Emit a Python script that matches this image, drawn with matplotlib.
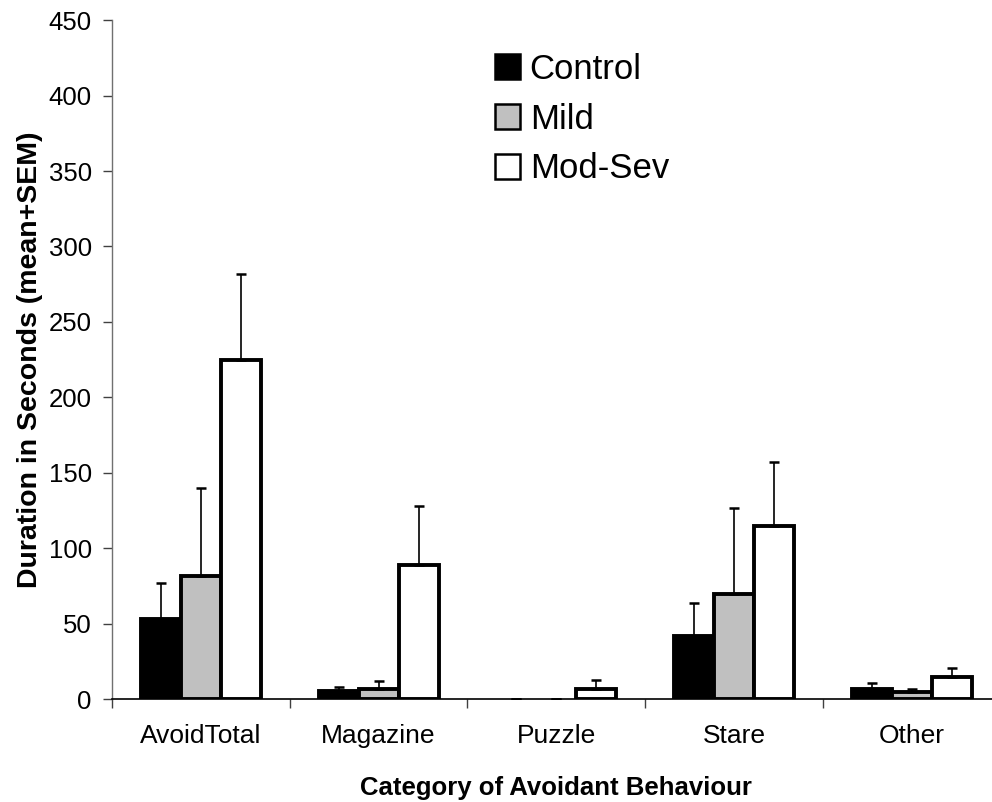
import matplotlib
matplotlib.use("Agg")
import matplotlib.pyplot as plt
import numpy as np

plt.rcParams['font.family'] = ['Liberation Sans', 'DejaVu Sans']

categories = ["AvoidTotal", "Magazine", "Puzzle", "Stare", "Other"]
groups = ["Control", "Mild", "Mod-Sev"]

# mean duration (s) per group, one value per category
control_mean = [53, 5.5, 0, 42, 6.6]
mild_mean = [82, 7, 0, 70, 5]
modsev_mean = [225, 89, 7, 115, 15]

# upper SEM bar height above each mean
control_sem = [24, 3, 0, 22, 4.5]
mild_sem = [58, 5, 0, 57, 1.6]
modsev_sem = [57, 39, 6, 42, 6]

y_ticks = [0, 50, 100, 150, 200, 250, 300, 350, 400, 450]

fills = ["black", "#c0c0c0", "white"]

fig = plt.figure(figsize=(9.92, 8.02), dpi=100)
ax = fig.add_axes([0.1129, 0.128, 0.8957, 0.847])

centers = np.arange(len(categories)) + 0.5
width = 0.225
offsets = [-width, 0, width]

for means, sems, fc, off, name in zip(
        [control_mean, mild_mean, modsev_mean],
        [control_sem, mild_sem, modsev_sem],
        fills, offsets, groups):
    means = np.array(means, dtype=float)
    sems = np.array(sems, dtype=float)
    lws = [2.8 if m > 0 else 0 for m in means]
    ax.bar(centers + off, means, width=width, color=fc, edgecolor="black",
           linewidth=lws, label=name, zorder=2)
    ax.errorbar(centers + off, means, yerr=[np.zeros_like(sems), sems],
                fmt="none", ecolor="black", elinewidth=1.2, capsize=3.8,
                capthick=1.8, zorder=3)

ax.set_xlim(0, len(categories))
ax.set_ylim(0, 450)
ax.set_yticks(y_ticks)

# boundaries get tick marks, category names sit between them
ax.set_xticks(np.arange(len(categories) + 1))
ax.set_xticklabels([])
ax.set_xticks(centers, minor=True)
ax.set_xticklabels(categories, minor=True)
ax.tick_params(axis="x", which="major", direction="out", length=6.5,
               width=1, color="#404040")
ax.tick_params(axis="x", which="minor", length=0, pad=18, labelsize=19)
ax.tick_params(axis="y", direction="out", length=6.5, width=1,
               color="#404040", pad=8, labelsize=18.5)

for s in ["top", "right"]:
    ax.spines[s].set_visible(False)
ax.spines["left"].set_color("#707070")
ax.spines["left"].set_linewidth(1.0)
ax.spines["bottom"].set_color("black")
ax.spines["bottom"].set_linewidth(1.2)

ax.set_xlabel("Category of Avoidant Behaviour", fontsize=18.5,
              fontweight="bold", labelpad=20)
ax.set_ylabel("Duration in Seconds (mean+SEM)", fontsize=20.5,
              fontweight="bold", labelpad=4)

leg = ax.legend(loc="upper left", bbox_to_anchor=(495 / 992, 1 - 53 / 802),
                bbox_transform=fig.transFigure, frameon=False, fontsize=25,
                handlelength=0.72, handleheight=0.72, handletextpad=0.28,
                labelspacing=0.48, borderpad=0, borderaxespad=0)
for h in leg.legend_handles:
    h.set_linewidth(1.8)

fig.savefig("out.png", dpi=100)
